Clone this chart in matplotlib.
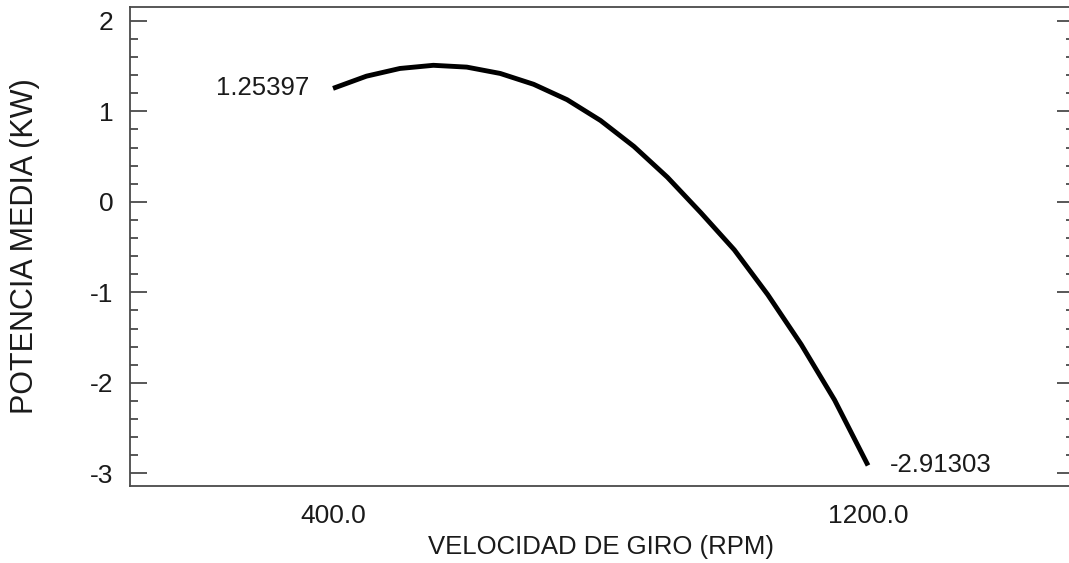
import matplotlib
matplotlib.use("Agg")
import matplotlib.pyplot as plt
from matplotlib.ticker import FixedLocator, FixedFormatter, MultipleLocator

plt.rcParams['font.family'] = ['Liberation Sans', 'DejaVu Sans']
plt.rcParams['axes.unicode_minus'] = False

# Mean power vs rotation speed
rpm = [400, 450, 500, 550, 600, 650, 700, 750, 800, 850,
       900, 950, 1000, 1050, 1100, 1150, 1200]
power_kw = [1.25397, 1.389, 1.474, 1.509, 1.489, 1.419, 1.299, 1.129, 0.899, 0.612,
            0.272, -0.120, -0.530, -1.025, -1.575, -2.190, -2.91303]

x_ticks = [400, 1200]
x_tick_labels = ["400.0", "1200.0"]
y_ticks = [-3, -2, -1, 0, 1, 2]
y_tick_labels = ["-3", "-2", "-1", "0", "1", "2"]
start_label = "1.25397"
end_label = "-2.91303"

W, H = 1069, 563
fig = plt.figure(figsize=(W / 100, H / 100), dpi=100)
ax = fig.add_axes([130 / W, (H - 486) / H, 944 / W, (486 - 7.3) / H])

ax.plot(rpm, power_kw, color='black', lw=3.5, solid_capstyle='butt', solid_joinstyle='round')

ax.set_xlim(96.4, 1508)
ax.set_ylim(-3.14, 2.15)

spine_col = '#4a4a4a'
for s in ax.spines.values():
    s.set_color(spine_col)
    s.set_linewidth(1.3)
# the frame continues past the right edge of the canvas
ax.spines['right'].set_visible(False)

ax.xaxis.set_major_locator(FixedLocator(x_ticks))
ax.xaxis.set_major_formatter(FixedFormatter(x_tick_labels))
ax.tick_params(axis='x', which='both', length=0, pad=13, labelsize=19, labelcolor='#1a1a1a')

ax.yaxis.set_major_locator(FixedLocator(y_ticks))
ax.yaxis.set_major_formatter(FixedFormatter(y_tick_labels))
ax.yaxis.set_minor_locator(MultipleLocator(0.2))
ax.tick_params(axis='y', which='major', direction='in', length=12, width=1.3,
               color=spine_col, left=True, right=True, pad=12,
               labelsize=19, labelcolor='#1a1a1a')
ax.tick_params(axis='y', which='minor', direction='in', length=6, width=1.3,
               color=spine_col, left=True, right=True)

ax.annotate(start_label, xy=(rpm[0], power_kw[0]), xytext=(-17, 0),
            textcoords='offset points', ha='right', va='center',
            fontsize=18.5, color='#1a1a1a')
ax.annotate(end_label, xy=(rpm[-1], power_kw[-1]), xytext=(16, 0),
            textcoords='offset points', ha='left', va='center',
            fontsize=18.5, color='#1a1a1a')

fig.text(601 / W, 1 - 547 / H, "VELOCIDAD DE GIRO (RPM)", ha='center', va='center',
         fontsize=18.5, color='#1a1a1a')
fig.text(25 / W, 1 - 246 / H, "POTENCIA MEDIA (KW)", ha='center', va='center',
         rotation=90, fontsize=22, color='#1a1a1a')

fig.savefig("out.png", dpi=100, facecolor='white')
